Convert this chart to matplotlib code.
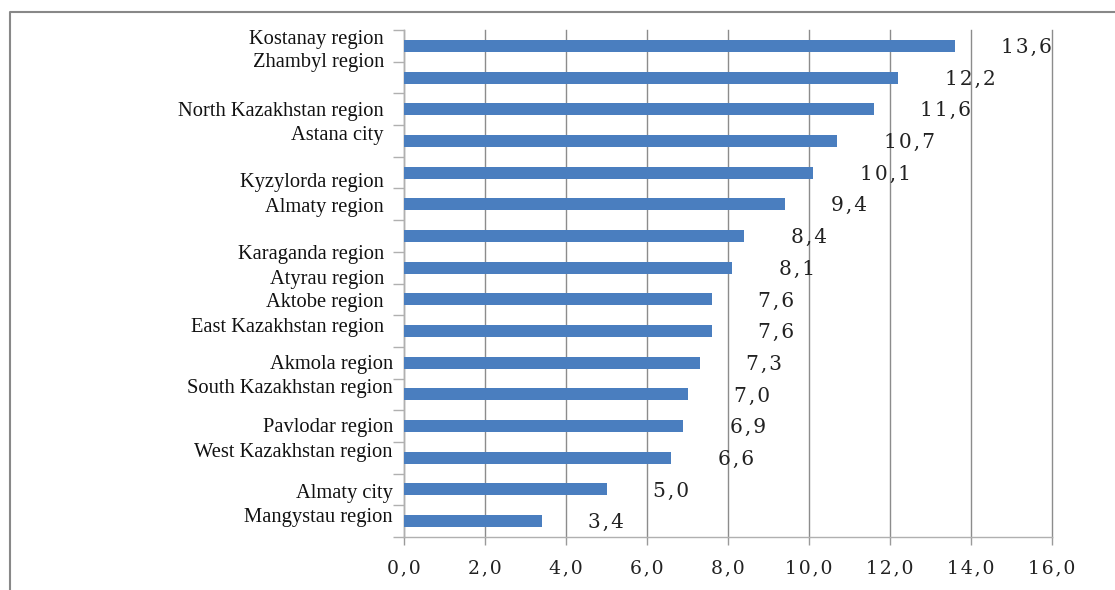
import matplotlib
matplotlib.use("Agg")
import matplotlib.pyplot as plt
from matplotlib.lines import Line2D
import numpy as np

categories = ["Kostanay region", "Zhambyl region", "North Kazakhstan region", "Astana city",
              "Kyzylorda region", "Almaty region", "Karaganda region", "Atyrau region",
              "Aktobe region", "East Kazakhstan region", "Akmola region",
              "South Kazakhstan region", "Pavlodar region", "West Kazakhstan region",
              "Almaty city", "Mangystau region"]
values = [13.6, 12.2, 11.6, 10.7, 10.1, 9.4, 8.4, 8.1, 7.6, 7.6, 7.3, 7.0, 6.9, 6.6, 5.0, 3.4]
xticks = [0, 2, 4, 6, 8, 10, 12, 14, 16]

# layout: vertical offsets of category labels (in bar slots) and their right edges (axes fraction)
label_dy = [-0.25, -0.54, 0.0, -0.22, 0.25, 0.03, 0.54, 0.32, 0.03, -0.16,
            0.0, -0.25, 0.0, -0.22, 0.06, -0.16]
label_x = [-0.031] * 10 + [-0.017] * 6

W, H = 1115, 590
fig = plt.figure(figsize=(W / 100, H / 100), dpi=100)
ax = fig.add_axes([404 / W, 1 - 537 / H, (1052 - 404) / W, (537 - 30) / H])

def fmt(v):
    s = f"{v:.1f}".replace(".", ",")
    return "\u200a".join(s)

y = np.arange(len(values))
ax.barh(y, values, height=0.38, color="#4a7ebf", zorder=3)
ax.set_xlim(0, 16)
ax.set_ylim(len(values) - 0.5, -0.5)

ax.set_xticks(xticks)
ax.set_xticklabels([fmt(t) for t in xticks], family="DejaVu Serif", fontsize=13.5, color="#222222")
ax.tick_params(axis="x", direction="out", length=6, width=1, color="#9a9a9a", pad=10)
ax.grid(axis="x", color="#8c8c8c", linewidth=1, zorder=0)
for gl in ax.get_xgridlines():
    gl.set_clip_on(False)

ax.set_yticks([])
ax.set_yticks(np.arange(len(values) + 1) - 0.5, minor=True)
ax.tick_params(axis="y", which="minor", direction="out", length=8, width=1, color="#b0b0b0")

for s in ["top", "right"]:
    ax.spines[s].set_visible(False)
for s in ["left", "bottom"]:
    ax.spines[s].set_color("#b0b0b0")
    ax.spines[s].set_linewidth(1)

ytr = ax.get_yaxis_transform()
for i, (c, v) in enumerate(zip(categories, values)):
    ax.text(label_x[i], i + label_dy[i] + 0.06, c, transform=ytr, ha="right", va="center",
            family="Liberation Serif", fontsize=14.8, color="#111111")
    ax.text(v + 1.15, i + 0.05, fmt(v), ha="left", va="center",
            family="DejaVu Serif", fontsize=14.5, color="#222222", zorder=4)

# figure frame (left and top)
fig.add_artist(Line2D([10 / W, 10 / W, 1.0], [0.0, 1 - 12 / H, 1 - 12 / H],
                      transform=fig.transFigure, color="#888888", linewidth=1.5))

fig.savefig("out.png", dpi=100)
